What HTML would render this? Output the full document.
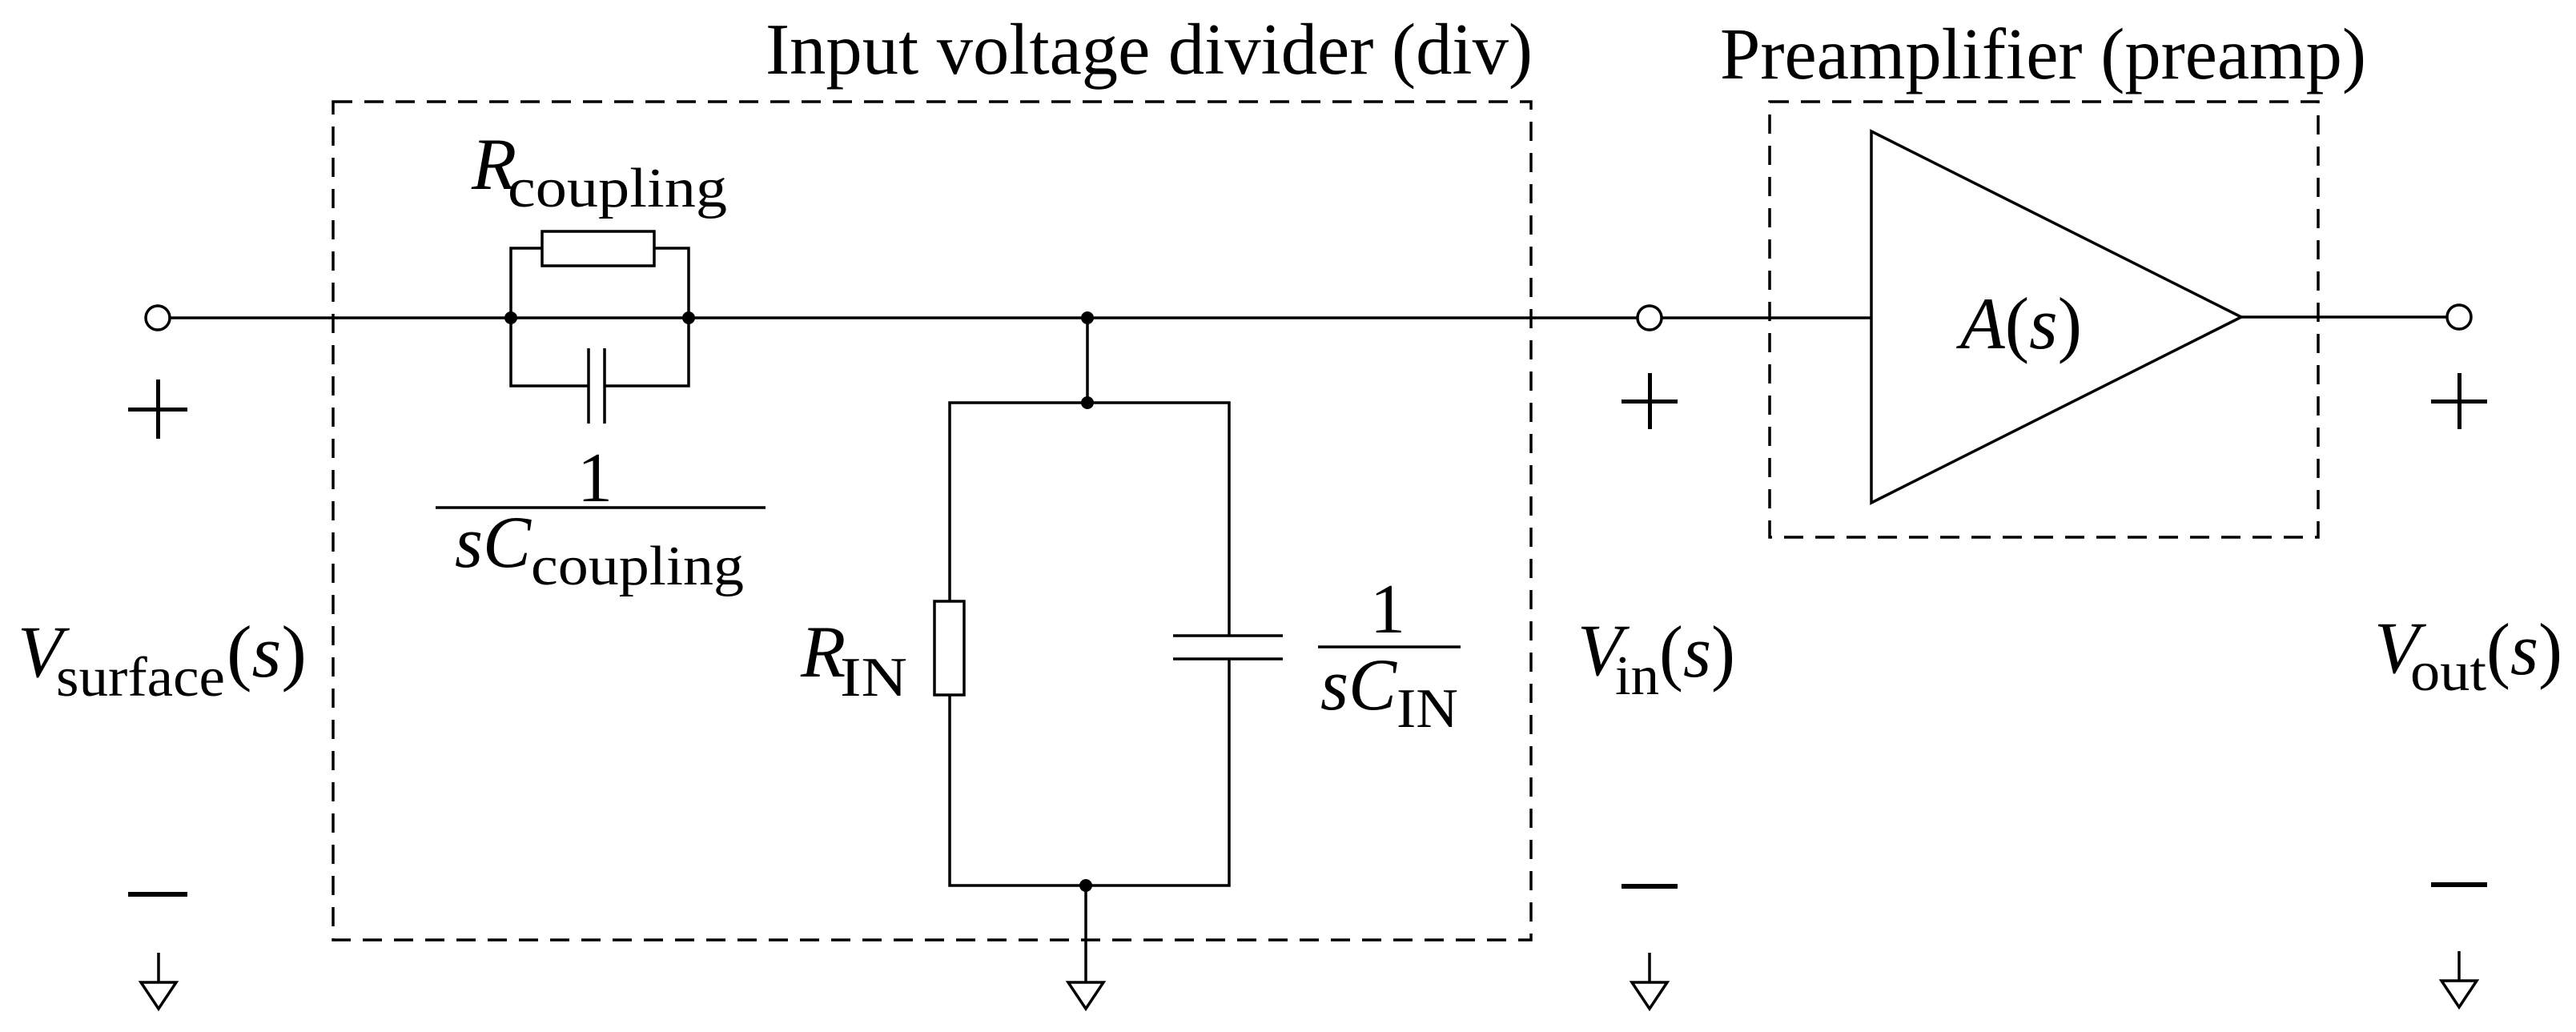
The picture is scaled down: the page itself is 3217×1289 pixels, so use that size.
<!DOCTYPE html>
<html><head><meta charset="utf-8"><style>
html,body{margin:0;padding:0;background:#fff;}
svg{display:block;}
text{font-family:"Liberation Serif",serif;fill:#000;}
</style></head><body>
<svg width="3217" height="1289" viewBox="0 0 3217 1289" xmlns="http://www.w3.org/2000/svg">
<g stroke="#000" stroke-width="3.5" fill="none">
<rect x="416" y="127" width="1496" height="1047" stroke-dasharray="24,15"/>
<rect x="2210" y="127" width="685" height="544" stroke-dasharray="24,15"/>
<line x1="213" y1="397" x2="2044" y2="397"/>
<line x1="2076" y1="397" x2="2337" y2="397"/>
<line x1="2799" y1="396" x2="3055" y2="396"/>
<polyline points="638,397 638,310 677,310"/>
<polyline points="817,310 860,310 860,397"/>
<rect x="677" y="289" width="140" height="43"/>
<polyline points="638,397 638,482 735,482"/>
<polyline points="755,482 860,482 860,397"/>
<line x1="735" y1="435" x2="735" y2="529"/>
<line x1="755" y1="435" x2="755" y2="529"/>
<line x1="1358" y1="397" x2="1358" y2="503"/>
<polyline points="1186,751 1186,503 1535,503 1535,794"/>
<polyline points="1186,868 1186,1106 1535,1106 1535,823"/>
<rect x="1167" y="751" width="37" height="117"/>
<line x1="1465" y1="794" x2="1602" y2="794"/>
<line x1="1465" y1="823" x2="1602" y2="823"/>
<polygon points="2337,164 2337,628 2799,396"/>
<line x1="544" y1="634" x2="956" y2="634"/>
<line x1="1646" y1="808" x2="1824" y2="808"/>
<circle cx="197" cy="397" r="15" fill="#fff"/>
<circle cx="2060" cy="397" r="15" fill="#fff"/>
<circle cx="3071" cy="396" r="15" fill="#fff"/>
<line x1="198" y1="1190" x2="198" y2="1227"/><polygon points="176,1227 220,1227 198,1260"/>
<line x1="1356" y1="1106" x2="1356" y2="1227"/><polygon points="1334,1227 1378,1227 1356,1260"/>
<line x1="2060" y1="1190" x2="2060" y2="1227"/><polygon points="2038,1227 2082,1227 2060,1260"/>
<line x1="3071" y1="1188" x2="3071" y2="1225"/><polygon points="3049,1225 3093,1225 3071,1258"/>
</g>
<g fill="#000">
<circle cx="638" cy="397" r="8"/><circle cx="860" cy="397" r="8"/>
<circle cx="1358" cy="397" r="8"/><circle cx="1358" cy="503" r="8"/>
<circle cx="1356" cy="1106" r="8"/>
<rect x="160" y="509" width="74" height="5"/><rect x="195" y="474" width="5" height="74"/>
<rect x="2025" y="499" width="70" height="5"/><rect x="2058" y="466" width="5" height="70"/>
<rect x="3036" y="499" width="70" height="5"/><rect x="3069" y="466" width="5" height="70"/>
<rect x="160" y="1114" width="74" height="6"/>
<rect x="2025" y="1104" width="70" height="6"/>
<rect x="3036" y="1102" width="70" height="6"/>
</g>
<g font-size="91">
<text x="956" y="92" textLength="958" lengthAdjust="spacingAndGlyphs">Input voltage divider (div)</text>
<text x="2148" y="98" textLength="807" lengthAdjust="spacingAndGlyphs">Preamplifier (preamp)</text>
<text x="589" y="236" font-style="italic" font-size="92">R</text>
<text x="634" y="258" font-size="70" textLength="274" lengthAdjust="spacingAndGlyphs">coupling</text>
<text x="743" y="626" font-size="88" text-anchor="middle">1</text>
<text x="568" y="708" font-style="italic" font-size="92" textLength="95" lengthAdjust="spacingAndGlyphs">sC</text>
<text x="663" y="730" font-size="70" textLength="266" lengthAdjust="spacingAndGlyphs">coupling</text>
<text x="22" y="845" font-style="italic" font-size="92">V</text>
<text x="70" y="869" font-size="70" textLength="211" lengthAdjust="spacingAndGlyphs">surface</text>
<text x="283" y="845" font-size="92" textLength="100" lengthAdjust="spacingAndGlyphs">(<tspan font-style="italic">s</tspan>)</text>
<text x="1000" y="845" font-style="italic" font-size="92">R</text>
<text x="1049" y="869" font-size="70" textLength="84" lengthAdjust="spacingAndGlyphs">IN</text>
<text x="1733" y="790" font-size="88" text-anchor="middle">1</text>
<text x="1649" y="886" font-style="italic" font-size="92" textLength="95" lengthAdjust="spacingAndGlyphs">sC</text>
<text x="1744" y="908" font-size="70" textLength="77" lengthAdjust="spacingAndGlyphs">IN</text>
<text x="1970" y="843" font-style="italic" font-size="92">V</text>
<text x="2017" y="867" font-size="70" textLength="55" lengthAdjust="spacingAndGlyphs">in</text>
<text x="2072" y="845" font-size="92" textLength="95" lengthAdjust="spacingAndGlyphs">(<tspan font-style="italic">s</tspan>)</text>
<text x="2965" y="840" font-style="italic" font-size="92">V</text>
<text x="3010" y="862" font-size="70" textLength="95" lengthAdjust="spacingAndGlyphs">out</text>
<text x="3105" y="842" font-size="92" textLength="95" lengthAdjust="spacingAndGlyphs">(<tspan font-style="italic">s</tspan>)</text>
<text x="2448" y="435" font-size="92" textLength="152" lengthAdjust="spacingAndGlyphs"><tspan font-style="italic">A</tspan>(<tspan font-style="italic">s</tspan>)</text>
</g>
</svg>
</body></html>
